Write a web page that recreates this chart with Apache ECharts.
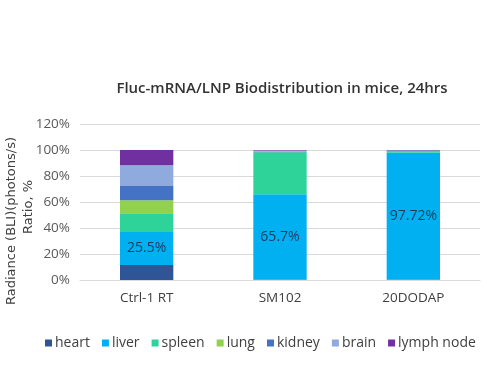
<!DOCTYPE html>
<html>
<head>
<meta charset="utf-8">
<script src="https://cdn.jsdelivr.net/npm/echarts@6/dist/echarts.min.js"></script>
<style>html,body{margin:0;padding:0;background:#fff;}#c{width:487px;height:365px;}</style>
</head>
<body>
<div id="c"></div>
<script>
const categories = ['Ctrl-1 RT', 'SM102', '20DODAP'];
const seriesNames = ['heart', 'liver', 'spleen', 'lung', 'kidney', 'brain', 'lymph node'];
const heart = [11.5, 0.2, 0.1];
const liver = [25.5, 65.7, 97.72];
const spleen = [14.3, 32.3, 1.2];
const lung = [10.0, 0.1, 0.1];
const kidney = [11.0, 0.3, 0.4];
const brain = [16.0, 1.0, 0.2];
const lymphNode = [11.7, 0.4, 0.28];
const yTicks = [0, 20, 40, 60, 80, 100, 120];

const colors = ['#2F5597', '#00B0F0', '#2ED39A', '#92D050', '#4472C4', '#8FAADC', '#7030A0'];
const values = [heart, liver, spleen, lung, kidney, brain, lymphNode];
const fontFam = 'Open Sans';

const series = seriesNames.map((name, i) => ({
  name: name,
  type: 'bar',
  stack: 'total',
  barWidth: '40%',
  data: values[i],
  itemStyle: { color: colors[i] },
  label: name === 'liver' ? {
    show: true,
    position: 'inside',
    color: '#1F3A5A',
    fontSize: 14,
    fontFamily: fontFam,
    formatter: p => p.value + '%'
  } : { show: false }
}));

const chart = echarts.init(document.getElementById('c'));
chart.setOption({
  animation: false,
  title: {
    text: 'Fluc-mRNA/LNP Biodistribution in mice, 24hrs',
    left: 277,
    textAlign: 'center',
    top: 76,
    textStyle: { fontFamily: fontFam, fontSize: 15, fontWeight: 600, color: '#333333' }
  },
  grid: { left: 80, right: 7, top: 124, bottom: 85, containLabel: false, outerBoundsMode: 'none' },
  legend: {
    data: seriesNames,
    left: 40,
    top: 331,
    itemWidth: 7,
    itemHeight: 7,
    itemGap: 12,
    icon: 'rect',
    textStyle: { fontFamily: fontFam, fontSize: 14, color: '#404040', padding: [0, 0, 0, -2] }
  },
  xAxis: {
    type: 'category',
    data: categories,
    axisLine: { show: true, lineStyle: { color: '#D9D9D9' } },
    axisTick: { show: false },
    axisLabel: { fontFamily: fontFam, fontSize: 13.5, color: '#404040', margin: 11 }
  },
  yAxis: {
    type: 'value',
    min: yTicks[0],
    max: yTicks[yTicks.length - 1],
    interval: 20,
    name: '{a|Radiance (BLI)(photons/s)}\n{b|Ratio, %}',
    nameLocation: 'middle',
    nameGap: 43,
    nameMoveOverlap: false,
    nameTextStyle: {
      fontFamily: fontFam, fontSize: 13.5, color: '#404040', lineHeight: 17,
      rich: {
        a: { fontFamily: 'DejaVu Sans', fontSize: 13, color: '#404040', lineHeight: 17, padding: [0, 38, 0, 0] },
        b: { fontFamily: 'DejaVu Sans', fontSize: 13, color: '#404040', lineHeight: 17, padding: [0, 10, 0, 0] }
      }
    },
    axisLine: { show: false },
    axisTick: { show: false },
    splitLine: { lineStyle: { color: '#D9D9D9' } },
    axisLabel: { fontFamily: fontFam, fontSize: 13.5, color: '#595959', margin: 10, formatter: v => v + '%' }
  },
  series: series
});
</script>
</body>
</html>
